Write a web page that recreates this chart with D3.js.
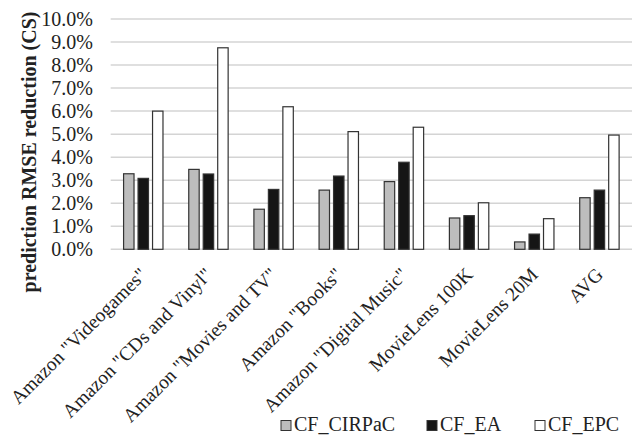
<!DOCTYPE html>
<html><head><meta charset="utf-8">
<script src="https://cdn.jsdelivr.net/npm/d3@7"></script>
<style>
body{margin:0;background:#fff;}
</style></head>
<body><svg id="c" width="636" height="437" style="font-family:'Liberation Serif'"></svg>
<script>
const categories = ['Amazon "Videogames"','Amazon "CDs and Vinyl"','Amazon "Movies and TV"','Amazon "Books"','Amazon "Digital Music"','MovieLens 100K','MovieLens 20M','AVG'];
const seriesNames = ['CF_CIRPaC','CF_EA','CF_EPC'];
const cirpac = [3.28,3.47,1.74,2.57,2.94,1.36,0.32,2.24];
const ea     = [3.08,3.27,2.60,3.18,3.78,1.46,0.66,2.57];
const epc    = [6.00,8.75,6.19,5.11,5.30,2.02,1.33,4.96];
const yTicks = [0,1,2,3,4,5,6,7,8,9,10];
const yTitle = 'prediction RMSE reduction (CS)';

(function(){
const FONT = "'Liberation Serif', 'DejaVu Serif', serif";
const FS = 20;
const series = [cirpac, ea, epc];
const fills = ['#bdbdbd','#151515','#ffffff'];

const svg = d3.select('#c');
const mLeft = 110.7, mRight = 632, mTop = 19, mBottom = 249.3;
const x = d3.scaleBand().domain(categories).range([mLeft, mRight]).paddingInner(0).paddingOuter(0);
const y = d3.scaleLinear().domain([0,10]).range([mBottom, mTop]);
const inner = d3.scaleBand().domain(d3.range(3)).range([0, 40.4]).paddingInner(0.21);

svg.append('g').selectAll('line').data(yTicks).join('line')
  .attr('x1', mLeft).attr('x2', mRight)
  .attr('y1', d => y(d)).attr('y2', d => y(d))
  .attr('stroke', '#d4d4d4').attr('stroke-width', 1.5);

const yAxis = d3.axisLeft(y).tickValues(yTicks).tickFormat(d => d3.format('.1f')(d) + '%').tickSize(0).tickPadding(0);
const ya = svg.append('g').attr('transform', 'translate(93,0)').call(yAxis);
ya.attr('font-family', null).attr('font-size', null);
ya.select('.domain').remove();
ya.selectAll('text').attr('font-size', FS).attr('fill','#222').attr('dy','0.33em')
  .style('font-family', FONT);

categories.forEach((c, i) => {
  const gx = x(c) + x.bandwidth()/2 - 20.2;
  series.forEach((s, k) => {
    svg.append('rect')
      .attr('x', gx + inner(k) + 0.5)
      .attr('y', y(s[i]))
      .attr('width', inner.bandwidth() - 1)
      .attr('height', y(0) - y(s[i]))
      .attr('fill', fills[k]).attr('stroke', '#333').attr('stroke-width', 1.2);
  });
});

svg.selectAll('text.xl').data(categories).join('text')
  .attr('class','xl')
  .attr('transform', d => `translate(${x(d) + x.bandwidth()/2},271) rotate(-45)`)
  .attr('text-anchor','end').attr('font-size', 19.5).attr('dy','0.35em')
  .attr('fill','#222').style('font-family', FONT)
  .text(d => d);

svg.append('text')
  .attr('transform', 'translate(36,152) rotate(-90)')
  .attr('text-anchor','middle').attr('font-size', FS).attr('font-weight','bold')
  .attr('fill','#222').style('font-family', FONT)
  .text(yTitle);

const legX = [281, 427, 535];
seriesNames.forEach((n, k) => {
  svg.append('rect').attr('x', legX[k]).attr('y', 420.5).attr('width', 10).attr('height', 10)
    .attr('fill', fills[k]).attr('stroke', '#333').attr('stroke-width', 1);
  svg.append('text').attr('x', legX[k] + 13).attr('y', 431).attr('font-size', FS)
    .attr('fill','#222').style('font-family', FONT).text(n);
});
})();
</script></body></html>
